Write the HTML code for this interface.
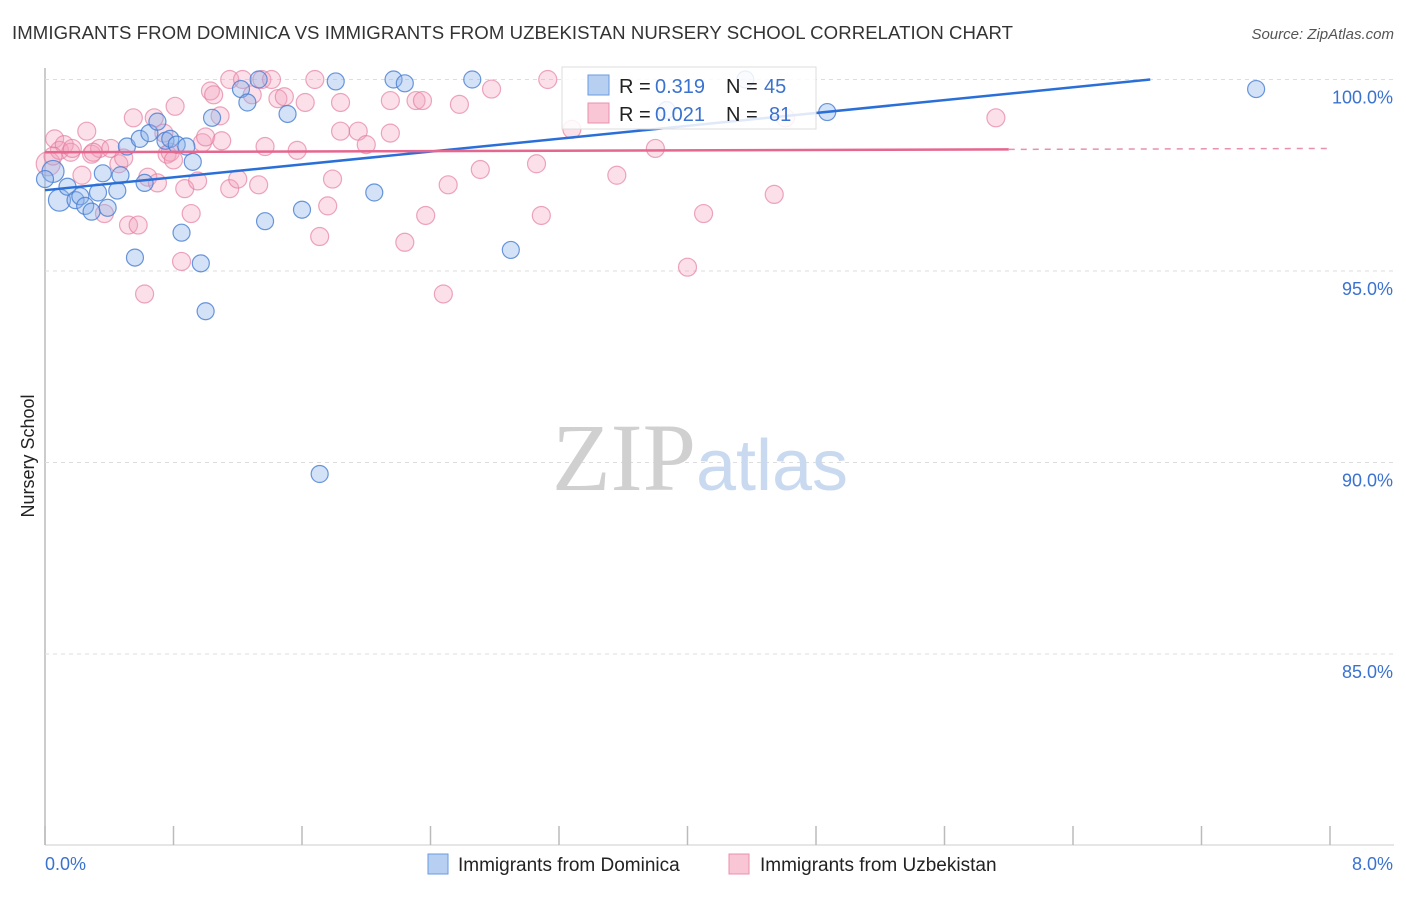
<!DOCTYPE html>
<html><head><meta charset="utf-8"><style>
body{margin:0;background:#fff;font-family:"Liberation Sans",sans-serif}
svg text{font-family:"Liberation Sans",sans-serif}
</style></head><body>
<svg width="1406" height="892" xmlns="http://www.w3.org/2000/svg">
<text x="12" y="39" font-size="18.6" fill="#333" textLength="1001">IMMIGRANTS FROM DOMINICA VS IMMIGRANTS FROM UZBEKISTAN NURSERY SCHOOL CORRELATION CHART</text>
<text x="1394" y="39" font-size="15" fill="#555" font-style="italic" text-anchor="end">Source: ZipAtlas.com</text>
<g id="grid"></g>
<text x="700" y="490" font-size="96" fill="#d8d8d8" text-anchor="middle" font-family="Liberation Serif"><tspan font-family="Liberation Serif" fill="#d0d0d0">ZIP</tspan><tspan font-family="Liberation Sans" fill="#c9daf0" font-size="72">atlas</tspan></text>
<text transform="translate(34,456) rotate(-90)" font-size="18" fill="#222" text-anchor="middle">Nursery School</text>
<g id="pts"></g>
<g id="lines"></g>
<g>
<rect x="562" y="67" width="254" height="62" fill="#fff" fill-opacity="0.85" stroke="#ddd"/>
<rect x="588" y="75" width="21" height="20" fill="#b7d0f2" stroke="#6a9ae0"/>
<text x="619" y="93" font-size="20" fill="#222">R =</text>
<text x="655" y="93" font-size="20" fill="#3a72d0">0.319</text>
<text x="726" y="93" font-size="20" fill="#222">N =</text>
<text x="764" y="93" font-size="20" fill="#3a72d0">45</text>
<rect x="588" y="103" width="21" height="20" fill="#f8c6d4" stroke="#e890ac"/>
<text x="619" y="121" font-size="20" fill="#222">R =</text>
<text x="655" y="121" font-size="20" fill="#3a72d0">0.021</text>
<text x="726" y="121" font-size="20" fill="#222">N =</text>
<text x="769" y="121" font-size="20" fill="#3a72d0">81</text>
</g>
<g>
<rect x="428" y="854" width="20" height="20" fill="#b7d0f2" stroke="#6a9ae0"/>
<text x="458" y="871" font-size="19" fill="#222">Immigrants from Dominica</text>
<rect x="729" y="854" width="20" height="20" fill="#f8c6d4" stroke="#e890ac"/>
<text x="760" y="871" font-size="19" fill="#222">Immigrants from Uzbekistan</text>
</g>
</svg>
<script>
const yTicks=[100,95,90,85];
const xTickLabels=["0.0%","8.0%"];
const blueX=[0.05,0.09,0.14,0.19,0.22,0.25,0.29,0.33,0.36,0.39,0.45,0.47,0.51,0.56,0.59,0.62,0.65,0.70,0.75,0.78,0.82,0.85,0.88,0.92,0.97,1.00,1.04,1.22,1.26,1.33,1.37,1.51,1.60,1.71,1.81,2.05,2.17,2.24,2.66,2.90,4.36,4.87,7.54,3.87,0.0];
const blueY=[97.6,96.85,97.2,96.85,96.95,96.7,96.55,97.05,97.55,96.65,97.1,97.5,98.25,95.35,98.45,97.3,98.6,98.9,98.4,98.45,98.3,96.0,98.25,97.85,95.2,93.95,99.0,99.75,99.4,100.0,96.3,99.1,96.6,89.7,99.95,97.05,100.0,99.9,100.0,95.55,100.0,99.15,99.75,99.2,97.4];
const blueBig=[1,1];
const pinkX=[0.02,0.06,0.09,0.12,0.16,0.17,0.23,0.26,0.29,0.34,0.37,0.41,0.46,0.49,0.52,0.55,0.58,0.62,0.64,0.68,0.70,0.74,0.76,0.78,0.81,0.85,0.87,0.91,0.95,0.98,1.00,1.03,1.05,1.09,1.15,1.15,1.20,1.23,1.29,1.33,1.35,1.37,1.41,1.45,1.49,1.57,1.62,1.68,1.71,1.76,1.79,1.84,1.84,1.95,2.15,2.15,2.24,2.31,2.35,2.37,2.48,2.51,2.58,2.71,2.78,3.06,3.09,3.13,3.28,3.56,4.00,4.10,4.54,4.61,5.92,0.05,0.3,0.8,1.1,2.0,3.8];
const pinkY=[97.8,98.45,98.15,98.3,98.1,98.2,97.5,98.65,98.05,98.2,96.5,98.2,97.8,97.95,96.2,99.0,96.2,94.4,97.45,99.0,97.3,98.6,98.05,98.1,99.3,95.25,97.15,96.5,97.35,98.35,98.5,99.7,99.6,99.05,100.0,97.15,97.4,100.0,99.6,97.25,100.0,98.25,100.0,99.5,99.55,98.15,99.4,100.0,95.9,96.7,97.4,99.4,98.65,98.65,99.45,98.6,95.75,99.45,99.45,96.45,94.4,97.25,99.35,97.65,99.75,97.8,96.45,100.0,98.7,97.5,95.1,96.5,97.0,99.0,99.0,98.0,98.1,97.9,98.4,98.3,98.2];
const blueLine=[97.11,100.47];
const pinkLine=[98.1,98.2];
const X0=45,X1=1330,Y100=79.5,PXP=38.3;
const sx=v=>X0+(v/8)*(X1-X0);
const sy=v=>Y100+(100-v)*PXP;
const NS="http://www.w3.org/2000/svg";
function mk(t,a,p){const e=document.createElementNS(NS,t);for(const k in a)e.setAttribute(k,a[k]);p.appendChild(e);return e;}
const grid=document.getElementById('grid');
const ax=mk('line',{x1:X0,y1:68,x2:X0,y2:845,stroke:'#bbb','stroke-width':1.5},grid);


const bx=mk('line',{x1:X0,y1:845,x2:1394,y2:845,stroke:'#ccc'},grid);


yTicks.forEach(t=>{
 const g=mk('line',{x1:X0,y1:sy(t),x2:1394,y2:sy(t),stroke:'#ddd','stroke-dasharray':'4,4'},grid);
 
 
 const tx=mk('text',{x:1393,y:sy(t)+24,'font-size':18,fill:'#3a72d0','text-anchor':'end'},grid);
 tx.textContent=t.toFixed(1)+'%';
 
 
});
for(let i=0;i<=10;i++){
 const x=sx(i*0.8);
 const tk=mk('line',{x1:x,y1:826,x2:x,y2:845,stroke:'#bbb','stroke-width':1.5},grid);
 
 
}
[[X0,'start',0],[1393,'end',1]].forEach(([x,a,i])=>{
 const t=mk('text',{x:x,y:870,'font-size':18,fill:'#3a72d0','text-anchor':a},grid);
 t.textContent=xTickLabels[i];
 
 
});
const pts=document.getElementById('pts');
pinkX.forEach((x,i)=>{
 const c=mk('circle',{cx:sx(x),cy:sy(pinkY[i]),r:i==0?12:9,fill:'rgba(244,160,188,0.33)',stroke:'rgba(228,120,155,0.65)','stroke-width':1.2},pts);
 
 
});
blueX.forEach((x,i)=>{
 const c=mk('circle',{cx:sx(x),cy:sy(blueY[i]),r:blueBig[i]?11:8.5,fill:'rgba(140,180,235,0.38)',stroke:'rgba(70,125,210,0.8)','stroke-width':1.2},pts);
 
 
});
const L=document.getElementById('lines');
const bxEnd=Math.min(8,8*(100-blueLine[0])/(blueLine[1]-blueLine[0]));
const byEnd=blueLine[0]+(blueLine[1]-blueLine[0])*bxEnd/8;
const bl=mk('line',{x1:sx(0),y1:sy(blueLine[0]),x2:sx(bxEnd),y2:sy(byEnd),stroke:'#2a6fd8','stroke-width':2.5},L);


const py=x=>pinkLine[0]+(pinkLine[1]-pinkLine[0])*x/8;
const pl=mk('line',{x1:sx(0),y1:sy(py(0)),x2:sx(6.0),y2:sy(py(6.0)),stroke:'#e5668f','stroke-width':2.5},L);


const pd=mk('line',{x1:sx(6.0),y1:sy(py(6.0)),x2:sx(8),y2:sy(py(8)),stroke:'#e890ac','stroke-width':1.5,'stroke-dasharray':'6,6'},L);


</script>
</body></html>
